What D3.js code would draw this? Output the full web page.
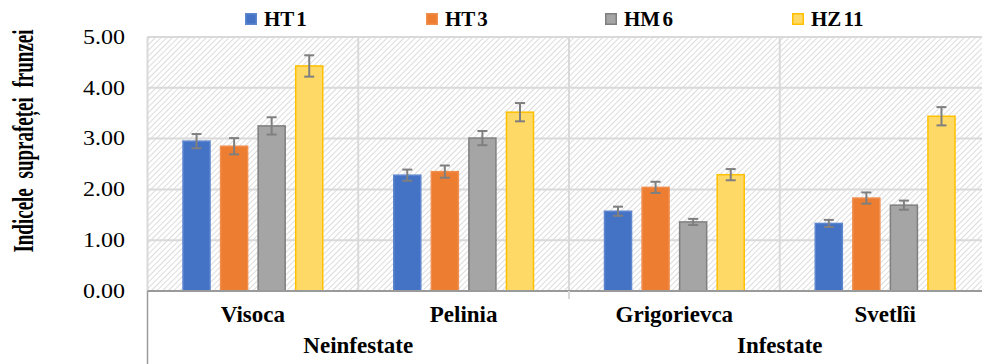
<!DOCTYPE html>
<html>
<head>
<meta charset="utf-8">
<script src="https://cdn.jsdelivr.net/npm/d3@7"></script>
<style>
  html, body { margin: 0; padding: 0; background: #fff; }
  svg { display: block; }
  svg text { font-family: "Liberation Serif", "DejaVu Serif", serif; fill: #000; }
</style>
</head>
<body>
<svg id="chart" width="982" height="364"></svg>
<script>
// Leaf area index by variety, grouped by field condition
const categories = ["Visoca", "Pelinia", "Grigorievca", "Svetlîi"];
const groups = ["Neinfestate", "Infestate"];
const groupSpan = [2, 2];
const seriesNames = ["HT 1", "HT 3", "HM 6", "HZ 11"];

const ht1 = [2.95, 2.28, 1.57, 1.33];
const ht3 = [2.85, 2.35, 2.04, 1.83];
const hm6 = [3.25, 3.01, 1.36, 1.69];
const hz11 = [4.43, 3.52, 2.29, 3.44];

const ht1Err = [0.14, 0.11, 0.09, 0.07];
const ht3Err = [0.16, 0.12, 0.11, 0.11];
const hm6Err = [0.17, 0.14, 0.06, 0.09];
const hz11Err = [0.21, 0.18, 0.11, 0.18];

const yTicks = [0, 1, 2, 3, 4, 5];

const seriesValues = [ht1, ht3, hm6, hz11];
const seriesErrors = [ht1Err, ht3Err, hm6Err, hz11Err];
const fills = ["#4472C4", "#ED7D31", "#A5A5A5", "#FFD966"];
const strokes = ["#5E86CF", "#F08E4E", "#7F7F7F", "#FFC000"];

const svg = d3.select("#chart");
const plotLeft = 147.5, plotRight = 990.5, plotTop = 37, plotBottom = 291, axisBottom = 364;

const x = d3.scaleBand().domain(categories).range([plotLeft, plotRight]).padding(0);
const xs = d3.scaleBand().domain(seriesNames)
  .range([35.5, x.bandwidth() - 35.5]).paddingInner(0.28);
const y = d3.scaleLinear().domain([0, 5]).range([plotBottom, plotTop]);

// Hatched plot background
const defs = svg.append("defs");
const pat = defs.append("pattern")
  .attr("id", "hatch").attr("patternUnits", "userSpaceOnUse")
  .attr("width", 4).attr("height", 4)
  .attr("patternTransform", "rotate(45)");
pat.append("rect").attr("width", 4).attr("height", 4).attr("fill", "#ffffff");
pat.append("line").attr("x1", 0).attr("y1", 0).attr("x2", 0).attr("y2", 4)
  .attr("stroke", "#d4d4d4").attr("stroke-width", 1.6);

svg.append("rect")
  .attr("x", plotLeft).attr("y", plotTop)
  .attr("width", plotRight - plotLeft).attr("height", plotBottom - plotTop)
  .attr("fill", "url(#hatch)");

// Horizontal gridlines
svg.append("g").selectAll("line")
  .data(yTicks.filter(d => d > 0))
  .join("line")
  .attr("x1", plotLeft).attr("x2", plotRight)
  .attr("y1", d => y(d)).attr("y2", d => y(d))
  .attr("stroke", "#d9d9d9").attr("stroke-width", 2);

// Vertical separators between varieties
svg.append("g").selectAll("line")
  .data(categories)
  .join("line")
  .attr("x1", c => x(c)).attr("x2", c => x(c))
  .attr("y1", plotTop).attr("y2", plotBottom)
  .attr("stroke", "#d9d9d9").attr("stroke-width", 2);

// Y tick labels
svg.append("g").selectAll("text")
  .data(yTicks)
  .join("text")
  .attr("transform", d => `translate(125,${y(d)}) scale(1.2,1)`)
  .attr("text-anchor", "end")
  .attr("dominant-baseline", "central")
  .attr("font-size", 20)
  .text(d => d3.format(".2f")(d));

// Bars
const barG = svg.append("g");
seriesNames.forEach((s, si) => {
  barG.append("g").selectAll("rect")
    .data(categories)
    .join("rect")
    .attr("x", c => x(c) + xs(s))
    .attr("y", (c, i) => y(seriesValues[si][i]))
    .attr("width", xs.bandwidth())
    .attr("height", (c, i) => y(0) - y(seriesValues[si][i]))
    .attr("fill", fills[si])
    .attr("stroke", strokes[si])
    .attr("stroke-width", 1.5);
});

// Error bars
const errG = svg.append("g").attr("stroke", "#7F7F7F").attr("stroke-width", 2);
seriesNames.forEach((s, si) => {
  categories.forEach((c, i) => {
    const cx = x(c) + xs(s) + xs.bandwidth() / 2;
    const v = seriesValues[si][i], e = seriesErrors[si][i];
    errG.append("line").attr("x1", cx).attr("x2", cx)
      .attr("y1", y(v + e)).attr("y2", y(v - e));
    errG.append("line").attr("x1", cx - 5).attr("x2", cx + 5)
      .attr("y1", y(v + e)).attr("y2", y(v + e));
    errG.append("line").attr("x1", cx - 5).attr("x2", cx + 5)
      .attr("y1", y(v - e)).attr("y2", y(v - e));
  });
});

// Top border
svg.append("line").attr("x1", plotLeft).attr("x2", plotRight)
  .attr("y1", plotTop).attr("y2", plotTop)
  .attr("stroke", "#d9d9d9").attr("stroke-width", 2);

// X axis line and category frame
svg.append("line").attr("x1", plotLeft).attr("x2", plotRight)
  .attr("y1", plotBottom).attr("y2", plotBottom)
  .attr("stroke", "#9a9a9a").attr("stroke-width", 2);
svg.append("line").attr("x1", plotLeft).attr("x2", plotLeft)
  .attr("y1", plotBottom).attr("y2", axisBottom)
  .attr("stroke", "#9a9a9a").attr("stroke-width", 1.5);
svg.append("line").attr("x1", x(categories[2])).attr("x2", x(categories[2]))
  .attr("y1", plotBottom).attr("y2", plotBottom + 8)
  .attr("stroke", "#d9d9d9").attr("stroke-width", 2);

// Category labels
svg.append("g").selectAll("text")
  .data(categories)
  .join("text")
  .attr("x", c => x(c) + x.bandwidth() / 2)
  .attr("y", 322)
  .attr("text-anchor", "middle")
  .attr("font-size", 23).attr("font-weight", "bold")
  .text(c => c);

// Group labels
let start = 0;
const groupCenters = groupSpan.map(n => {
  const a = x(categories[start]);
  const b = x(categories[start + n - 1]) + x.bandwidth();
  start += n;
  return (a + b) / 2;
});
svg.append("g").selectAll("text")
  .data(groups)
  .join("text")
  .attr("x", (g, i) => groupCenters[i])
  .attr("y", 353)
  .attr("text-anchor", "middle")
  .attr("font-size", 23).attr("font-weight", "bold")
  .text(g => g);

// Y axis title
svg.append("text")
  .attr("transform", "translate(23,141) rotate(-90) scale(1,1.5)")
  .attr("text-anchor", "middle")
  .attr("dominant-baseline", "central")
  .attr("font-size", 19).attr("font-weight", "bold")
  .attr("word-spacing", 5)
  .text("Indicele suprafeței frunzei");

// Legend
const legendX = [245, 426, 605, 792];
const leg = svg.append("g").selectAll("g")
  .data(seriesNames)
  .join("g")
  .attr("transform", (d, i) => `translate(${legendX[i]},0)`);
leg.append("rect")
  .attr("x", 0.75).attr("y", 13.75).attr("width", 10.5).attr("height", 10.5)
  .attr("fill", (d, i) => fills[i])
  .attr("stroke", (d, i) => strokes[i]).attr("stroke-width", 1.5);
leg.append("text")
  .attr("x", 19).attr("y", 25.5)
  .attr("font-size", 21).attr("font-weight", "bold")
  .attr("word-spacing", -3)
  .text(d => d);
</script>
</body>
</html>
